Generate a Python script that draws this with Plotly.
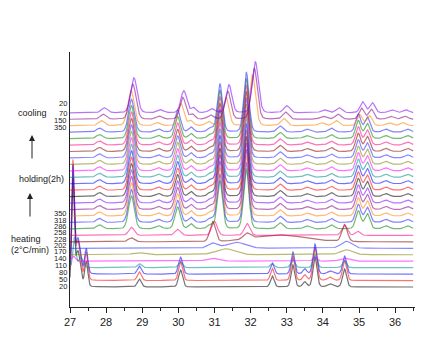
import numpy as np
import plotly.graph_objects as go

# ---------------- data ----------------
# curves listed bottom -> top
STAGES = ["heating"] * 12 + ["holding"] * 12 + ["cooling"] * 4
TEMPS = [20, 50, 80, 110, 140, 170, 202, 228, 258, 286, 318, 350] + [350] * 12 + [350, 150, 70, 20]
PATTERNS = (["low", "low", "low", "low110", "t140", "t170", "t202", "t228", "t258", "hot", "hot", "hot"]
            + ["hot"] * 12 + ["hot", "cool", "cool", "cool"])
SHIFTS = [0.0] * 12 + [0.0] * 12 + [0.0, -0.08, -0.03, 0.0]
SCALES = [1.0, 1.1, 1.0, 1.0, 1.0, 1.0, 1.0, 1.0, 1.0, 1.0, 1.0, 1.0] + [1.0] * 12 + [1.0, 1.0, 1.0, 1.0]
COLORS = ["#000000", "#ff0000", "#0000ff", "#008b8b", "#ff00ff", "#808000", "#2a2aff",
          "#800000", "#ff0080", "#008000", "#1f1fff", "#ff8000", "#800080", "#8000ff",
          "#000000", "#ff0000", "#0000ff", "#008b8b", "#ff00ff", "#808000", "#2a2aff",
          "#800000", "#ff0080", "#008000", "#1f1fff", "#ff8000", "#800080", "#8000ff"]

# peak tables: position (2theta), height, FWHM
LOW_POS = [27.08, 27.22, 27.45, 28.92, 30.06, 32.60, 33.17, 33.50, 33.78, 34.20, 34.60]
LOW_H = [105, 35, 25, 8, 17, 11, 22, 5, 30, 3, 18]
LOW_W = [0.08, 0.16, 0.10, 0.13, 0.13, 0.12, 0.12, 0.12, 0.13, 0.16, 0.13]

LOW110_POS = [27.12, 27.30, 28.92, 30.06, 32.60, 33.17, 33.78, 34.60]
LOW110_H = [30, 10, 4, 6, 4, 8, 13, 7]
LOW110_W = [0.09, 0.16, 0.13, 0.13, 0.13, 0.13, 0.13, 0.13]

T140_POS = [27.10, 30.95, 33.78, 34.60]
T140_H = [5, 3, 4, 3]
T140_W = [0.12, 0.40, 0.14, 0.30]

T170_POS = [28.90, 31.30, 34.65]
T170_H = [2, 6, 5]
T170_W = [0.40, 0.60, 0.40]

T202_POS = [30.95, 31.60, 34.65]
T202_H = [5, 6, 7]
T202_W = [0.30, 0.60, 0.35]

T228_POS = [28.70, 30.95, 31.90, 32.80, 34.60]
T228_H = [4, 20, 6, 7, 17]
T228_W = [0.20, 0.18, 0.24, 1.60, 0.18]

T258_POS = [28.70, 29.98, 31.00, 31.90, 34.60, 34.97]
T258_H = [8, 6, 14, 12, 10, 4]
T258_W = [0.18, 0.18, 0.18, 0.18, 0.18, 0.16]

HOT_POS = [27.82, 28.70, 29.45, 29.98, 30.35, 30.90, 31.15, 31.88, 32.82, 33.55, 34.23, 34.98, 35.23, 35.75, 36.35]
HOT_H = [4, 33, 3, 22, 5, 4, 48, 60, 6, 3, 4, 18, 15, 3, 3]
HOT_W = [0.20, 0.19, 0.20, 0.18, 0.16, 0.20, 0.17, 0.17, 0.20, 0.20, 0.20, 0.17, 0.17, 0.20, 0.20]

COOL_POS = [27.95, 28.77, 29.50, 30.15, 30.42, 30.92, 31.40, 32.13, 33.00, 34.03, 34.45, 35.10, 35.37, 35.90, 36.30]
COOL_H = [5, 35, 3, 22, 5, 4, 28, 51, 7, 3, 5, 11, 10, 3, 3]
COOL_W = [0.20, 0.21, 0.20, 0.19, 0.16, 0.20, 0.19, 0.20, 0.20, 0.20, 0.20, 0.17, 0.17, 0.20, 0.20]

TICK_VALUES = [27, 28, 29, 30, 31, 32, 33, 34, 35, 36]

PEAK_TABLES = {
    "low": (LOW_POS, LOW_H, LOW_W),
    "low110": (LOW110_POS, LOW110_H, LOW110_W),
    "t140": (T140_POS, T140_H, T140_W),
    "t170": (T170_POS, T170_H, T170_W),
    "t202": (T202_POS, T202_H, T202_W),
    "t228": (T228_POS, T228_H, T228_W),
    "t258": (T258_POS, T258_H, T258_W),
    "hot": (HOT_POS, HOT_H, HOT_W),
    "cool": (COOL_POS, COOL_H, COOL_W),
}

# ---------------- layout constants ----------------
# page body has an 8px margin, so the figure is placed at (8, 8) in the window
OFF = 8
W, H = 415, 341
L, R, T, B = 62, 8, 44, 42           # plot area: x 70..415, y 52..307 in the window
PLOT_H = H - T - B                    # 255 -> one y unit == 1 px
PLOT_W = W - L - R                    # 345
BASE0 = 20.0
STEP = 6.45

two_theta = np.arange(27.0, 36.5 + 1e-9, 0.005)


def profile(pos, hts, fw, shift, scale):
    y = np.zeros_like(two_theta)
    for p, h, w in zip(pos, hts, fw):
        c = p + shift
        g = np.exp(-4 * np.log(2) * ((two_theta - c) / w) ** 2)
        lz = 1.0 / (1.0 + 4 * ((two_theta - c) / w) ** 2)
        y += h * scale * (0.85 * g + 0.15 * lz)
    return y


fig = go.Figure()
for i, (pat, sh, sc, col) in enumerate(zip(PATTERNS, SHIFTS, SCALES, COLORS)):
    pos, hts, fw = PEAK_TABLES[pat]
    yy = BASE0 + STEP * i + profile(pos, hts, fw, sh, sc)
    fig.add_trace(go.Scatter(x=two_theta, y=yy, mode="lines",
                             line=dict(color=col, width=1.2), opacity=0.55,
                             hoverinfo="skip", showlegend=False,
                             name=f"{STAGES[i]} {TEMPS[i]}"))


def px_x(px):
    return (px - OFF - L) / PLOT_W


def px_y(py):
    return (OFF + H - B) - py


ann = []
font_small = dict(family="Liberation Sans, Arial, sans-serif", size=7.5, color="#222")
font_txt = dict(family="Liberation Sans, Arial, sans-serif", size=9, color="#222")
# heating labels
heat_label_y = [286, 279, 272, 265, 258, 251, 245, 239, 232, 226, 220, 213]
for t, py in zip(TEMPS[:12], heat_label_y):
    ann.append(dict(x=px_x(68), y=px_y(py), xref="paper", yref="y", text=str(t),
                    showarrow=False, xanchor="right", yanchor="middle", font=font_small,
                    borderpad=0))
# cooling labels
cool_label_y = [127, 120, 113, 103]
for t, py in zip(TEMPS[24:], cool_label_y):
    ann.append(dict(x=px_x(68), y=px_y(py), xref="paper", yref="y", text=str(t),
                    showarrow=False, xanchor="right", yanchor="middle", font=font_small,
                    borderpad=0))
ann.append(dict(x=px_x(32), y=px_y(113), xref="paper", yref="y", text="cooling",
                showarrow=False, xanchor="center", yanchor="middle", font=font_txt))
ann.append(dict(x=px_x(41), y=px_y(179), xref="paper", yref="y", text="holding(2h)",
                showarrow=False, xanchor="center", yanchor="middle", font=font_txt))
ann.append(dict(x=px_x(9), y=px_y(239), xref="paper", yref="y", text="heating",
                showarrow=False, xanchor="left", yanchor="middle", font=font_txt))
ann.append(dict(x=px_x(9), y=px_y(250), xref="paper", yref="y", text="(2°C/min)",
                showarrow=False, xanchor="left", yanchor="middle", font=font_txt))
# arrows (tail offset in pixels below the head)
for xa, y0, y1 in [(32, 160, 135), (30, 218, 193)]:
    ann.append(dict(x=px_x(xa), y=px_y(y1), xref="paper", yref="y",
                    ax=0, ay=y0 - y1, axref="pixel", ayref="pixel",
                    text="", showarrow=True, arrowhead=2, arrowsize=1.2,
                    arrowwidth=1, arrowcolor="#222"))

fig.update_layout(
    width=W, height=H,
    margin=dict(l=L, r=R, t=T, b=B, autoexpand=False),
    paper_bgcolor="white", plot_bgcolor="white",
    annotations=ann,
    xaxis=dict(range=[27, 36.55], tickvals=TICK_VALUES, ticks="outside", ticklen=5,
               tickwidth=1, tickcolor="#222", showline=True, linecolor="#222", linewidth=1,
               showgrid=False, zeroline=False, automargin=False,
               tickfont=dict(family="Liberation Sans, Arial, sans-serif", size=11, color="#222"),
               minor=dict(dtick=0.5, tick0=27, ticks="outside", ticklen=3, tickcolor="#222")),
    yaxis=dict(range=[0, PLOT_H], showline=True, linecolor="#222", linewidth=1,
               showticklabels=False, ticks="", showgrid=False, zeroline=False, automargin=False),
)

fig.write_html("out.html")
